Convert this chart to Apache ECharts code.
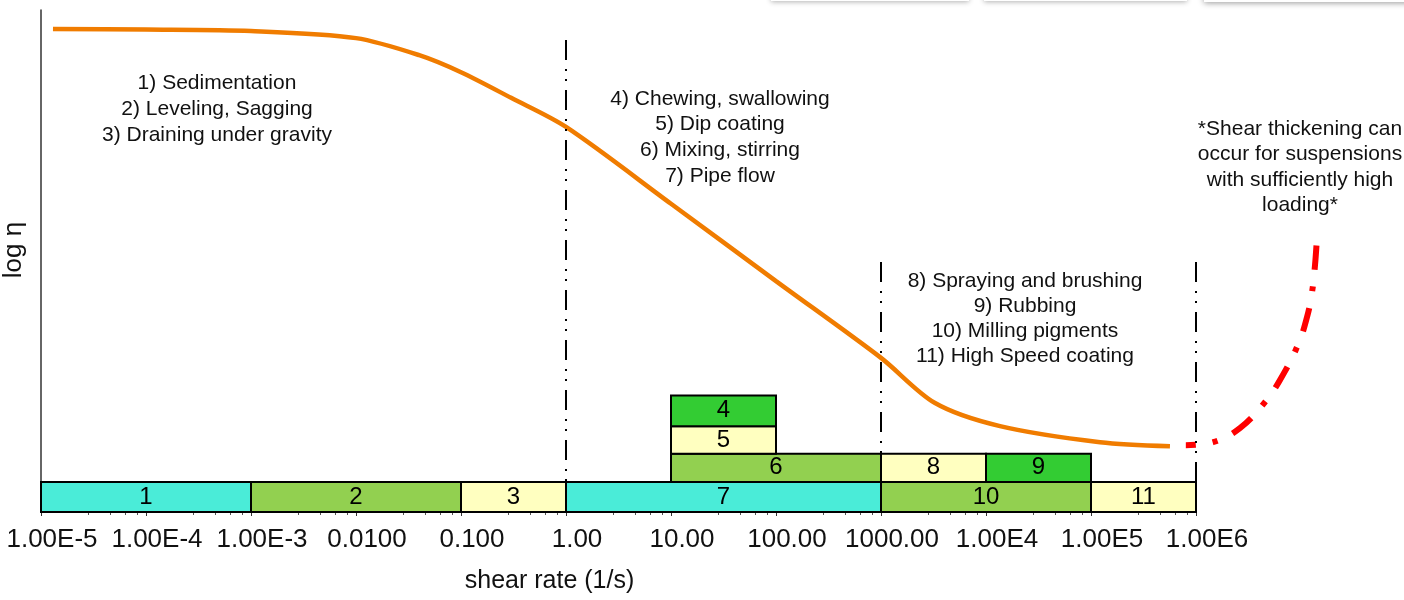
<!DOCTYPE html>
<html>
<head>
<meta charset="utf-8">
<style>
  html, body { margin: 0; padding: 0; background: #fff; }
  #main { width: 1404px; height: 600px; }
</style>
<script src="https://cdn.jsdelivr.net/npm/echarts@6/dist/echarts.min.js"></script>
</head>
<body>
<div id="main"></div>
<script>
// flow curve (shear rate in 1/s, relative log viscosity)
var shearRate = [1.3e-5, 1e-4, 1e-3, 1e-2, 0.04, 0.1, 0.3, 1, 10, 100, 1000, 3270, 13600, 1.22e5, 5.65e5];
var viscosity = [96.2, 96.1, 95.8, 94.4, 91.0, 87.6, 82.5, 76.7, 61.4, 46.0, 30.7, 21.7, 17.1, 13.9, 13.1];

// shear thickening branch
var thickRate = [8.0e5, 1.45e6, 2.62e6, 4.54e6, 6.31e6, 9.36e6, 1.14e7, 1.27e7, 1.36e7, 1.42e7];
var thickEta = [13.3, 13.9, 16.7, 21.9, 26.3, 33.3, 38.8, 43.6, 49.2, 54.8];

// process ranges
var barLabels = ['1', '2', '3', '7', '10', '11', '6', '8', '9', '5', '4'];
var barStart = [1e-5, 1e-3, 0.1, 1, 1000, 1e5, 10, 1000, 1e4, 10, 10];
var barEnd = [1e-3, 0.1, 1, 1000, 1e5, 1e6, 1000, 1e4, 1e5, 100, 100];
var barRow = [0, 0, 0, 0, 0, 0, 1, 1, 1, 2, 3];
var rowEdges = [0, 6, 11.6, 17.1, 23.2];

// dividers between regions
var dividerRate = [1, 1000, 1e6];
var dividerTop = [94, 49.8, 49.8];

var tickLabels = ['1.00E-5', '1.00E-4', '1.00E-3', '0.0100', '0.100', '1.00',
  '10.00', '100.00', '1000.00', '1.00E4', '1.00E5', '1.00E6'];

var barColors = ['#4aecd8', '#92d050', '#ffffc0', '#4aecd8', '#92d050', '#ffffc0',
  '#92d050', '#ffffc0', '#33cc33', '#ffffc0', '#33cc33'];

var FONT = '"Liberation Sans", Arial, sans-serif';

var myChart = echarts.init(document.getElementById('main'));

var barData = barLabels.map(function (lab, i) {
  return [barStart[i], barEnd[i], rowEdges[barRow[i]], rowEdges[barRow[i] + 1], lab];
});

function renderBar(params, api) {
  var a = api.coord([api.value(0), api.value(3)]);
  var b = api.coord([api.value(1), api.value(2)]);
  return {
    type: 'rect',
    shape: { x: a[0], y: a[1], width: b[0] - a[0], height: b[1] - a[1] },
    style: { fill: barColors[params.dataIndex], stroke: '#000', lineWidth: 2 },
    textContent: {
      style: { text: barLabels[params.dataIndex], fontSize: 24, fontFamily: FONT, fill: '#000' }
    },
    textConfig: { position: 'inside' }
  };
}

var dividerLines = dividerRate.map(function (r, i) {
  return [{ coord: [r, dividerTop[i]] }, { coord: [r, 0] }];
});

function textBlock(lines, x, y, lh) {
  return {
    type: 'text',
    x: x,
    y: y,
    z: 10,
    style: {
      text: lines.join('\n'),
      fontSize: 21,
      fontFamily: FONT,
      fill: '#111',
      align: 'center',
      verticalAlign: 'top',
      lineHeight: lh
    }
  };
}

var option = {
  animation: false,
  grid: [
    { left: 41, right: 208, top: 10, bottom: 88, containLabel: false, outerBoundsMode: 'none' },
    // same scale per decade, stretched two decades further to the right
    { left: 41, top: 10, width: 1365, height: 502, containLabel: false, outerBoundsMode: 'none' }
  ],
  xAxis: [{
    type: 'log',
    logBase: 10,
    min: 1e-5,
    max: 1e6,
    interval: 1,
    name: 'shear rate (1/s)',
    nameLocation: 'middle',
    nameGap: 57,
    nameTextStyle: { fontSize: 25, fontFamily: FONT, color: '#111', padding: [0, 138, 0, 0] },
    axisLine: { lineStyle: { color: '#000', width: 2 } },
    axisTick: { show: true, length: 4, lineStyle: { color: '#333' } },
    minorTick: { show: true, length: 3, splitNumber: 5, lineStyle: { color: '#555' } },
    splitLine: { show: false },
    axisLabel: {
      fontSize: 26,
      fontFamily: FONT,
      color: '#111',
      margin: 15,
      padding: [0, 0, 0, 22],
      formatter: function (v) {
        var k = Math.round(Math.log10(v)) + 5;
        return tickLabels[k] || '';
      }
    }
  }, {
    type: 'log',
    logBase: 10,
    gridIndex: 1,
    min: 1e-5,
    max: 1e8,
    show: false
  }],
  yAxis: [{
    type: 'value',
    min: 0,
    max: 100,
    name: 'log η',
    nameLocation: 'middle',
    nameGap: 14,
    nameTextStyle: { fontSize: 26, fontFamily: FONT, color: '#111', padding: [0, 0, 0, 22] },
    axisLine: { show: true, lineStyle: { color: '#333', width: 1.5 } },
    axisTick: { show: false },
    axisLabel: { show: false },
    splitLine: { show: false }
  }, {
    type: 'value',
    gridIndex: 1,
    min: 0,
    max: 100,
    show: false
  }],
  series: [
    {
      type: 'line',
      data: [],
      z: 1,
      silent: true,
      markLine: {
        silent: true,
        symbol: 'none',
        label: { show: false },
        lineStyle: { color: '#000', width: 2, type: [20, 9, 2, 8, 2, 9] },
        data: dividerLines
      }
    },
    {
      type: 'line',
      data: shearRate.map(function (x, i) { return [x, viscosity[i]]; }),
      smooth: 0.3,
      showSymbol: false,
      z: 2,
      lineStyle: { color: '#f07c00', width: 4.5 }
    },
    {
      type: 'line',
      xAxisIndex: 1,
      yAxisIndex: 1,
      data: thickRate.map(function (x, i) { return [x, thickEta[i]]; }),
      smooth: 0.4,
      showSymbol: false,
      z: 2,
      lineStyle: { color: '#ff0000', width: 6, type: [24, 17, 5, 17], dashOffset: 14 }
    },
    {
      type: 'custom',
      renderItem: renderBar,
      encode: { x: [0, 1], y: [2, 3] },
      data: barData,
      z: 3
    }
  ],
  graphic: [
    textBlock(['1) Sedimentation', '2) Leveling, Sagging', '3) Draining under gravity'], 217, 70, 26),
    textBlock(['4) Chewing, swallowing', '5) Dip coating', '6) Mixing, stirring', '7) Pipe flow'], 720, 86, 25.7),
    textBlock(['8) Spraying and brushing', '9) Rubbing', '10) Milling pigments', '11) High Speed coating'], 1025, 269, 25),
    textBlock(['*Shear thickening can', 'occur for suspensions', 'with sufficiently high', 'loading*'], 1300, 116, 25.5),
    { type: 'rect', shape: { x: 771, y: -30, width: 198, height: 31 },
      style: { fill: '#fff', shadowBlur: 5, shadowColor: 'rgba(0,0,0,0.3)', shadowOffsetY: 1 } },
    { type: 'rect', shape: { x: 984, y: -30, width: 203, height: 31 },
      style: { fill: '#fff', shadowBlur: 5, shadowColor: 'rgba(0,0,0,0.3)', shadowOffsetY: 1 } },
    { type: 'rect', shape: { x: 1204, y: -30, width: 210, height: 32 },
      style: { fill: '#fff', shadowBlur: 6, shadowColor: 'rgba(0,0,0,0.4)', shadowOffsetY: 1 } }
  ]
};

myChart.setOption(option);
</script>
</body>
</html>
